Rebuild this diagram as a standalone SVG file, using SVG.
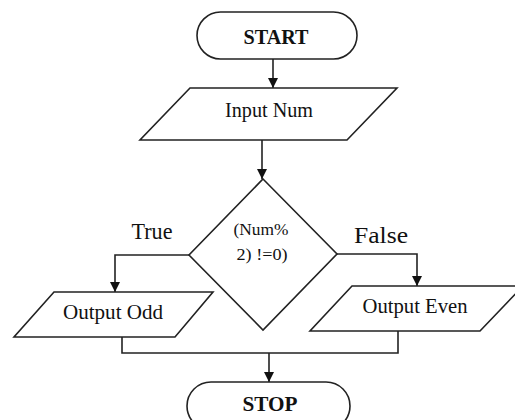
<svg xmlns="http://www.w3.org/2000/svg" width="515" height="420" viewBox="0 0 515 420">
<style>
.shape{fill:#fff;stroke:#222;stroke-width:1.6}
.conn{fill:none;stroke:#222;stroke-width:1.6}
.t{font-family:"Liberation Serif","Times New Roman",serif;fill:#111;text-anchor:middle}
.b{font-weight:bold;font-size:20px}
.n{font-size:20px}
.lbl{font-size:23px}
.d{font-size:17px}
</style>
<defs>
<marker id="arr" viewBox="0 0 10 10" refX="10" refY="5" markerWidth="10" markerHeight="10" markerUnits="userSpaceOnUse" orient="auto">
<path d="M0,0 L10,5 L0,10 Z" fill="#111"/>
</marker>
</defs>
<rect width="515" height="420" fill="#fff"/>
<g id="connectors">
<line class="conn" x1="273" y1="59" x2="273" y2="88" marker-end="url(#arr)"/>
<line class="conn" x1="262" y1="140" x2="262" y2="179" marker-end="url(#arr)"/>
<path class="conn" d="M189,255 H115 V292" marker-end="url(#arr)"/>
<path class="conn" d="M337,254 H417 V286" marker-end="url(#arr)"/>
<path class="conn" d="M122,337 V353 H398 V331"/>
<line class="conn" x1="269" y1="353" x2="269" y2="382" marker-end="url(#arr)"/>
<text class="t lbl" x="152" y="239" textLength="41" lengthAdjust="spacingAndGlyphs">True</text>
<text class="t lbl" x="381" y="243" textLength="54" lengthAdjust="spacingAndGlyphs">False</text>
</g>
<g id="start">
<rect class="shape" x="197" y="12" width="160" height="47" rx="23.5"/>
<text class="t b" x="276" y="44" textLength="65" lengthAdjust="spacingAndGlyphs">START</text>
</g>
<g id="input">
<polygon class="shape" points="190,88 397,88 347,140 140,140"/>
<text class="t n" x="269" y="117" textLength="88" lengthAdjust="spacingAndGlyphs">Input Num</text>
</g>
<g id="decision">
<polygon class="shape" points="263,179 337,254 263,330 189,255"/>
<text class="t d" x="261" y="235" textLength="55" lengthAdjust="spacingAndGlyphs">(Num%</text>
<text class="t d" x="262" y="260" textLength="51" lengthAdjust="spacingAndGlyphs">2) !=0)</text>
</g>
<g id="output-odd">
<polygon class="shape" points="54,292 213,292 175,337 14,337"/>
<text class="t n" x="113" y="319" textLength="100" lengthAdjust="spacingAndGlyphs">Output Odd</text>
</g>
<g id="output-even">
<polygon class="shape" points="352,286 523,286 480,331 310,331"/>
<text class="t n" x="415" y="313" textLength="105" lengthAdjust="spacingAndGlyphs">Output Even</text>
</g>
<g id="stop">
<rect class="shape" x="187" y="382" width="163" height="48" rx="24"/>
<text class="t b" x="270" y="411" textLength="55" lengthAdjust="spacingAndGlyphs">STOP</text>
</g>
</svg>
